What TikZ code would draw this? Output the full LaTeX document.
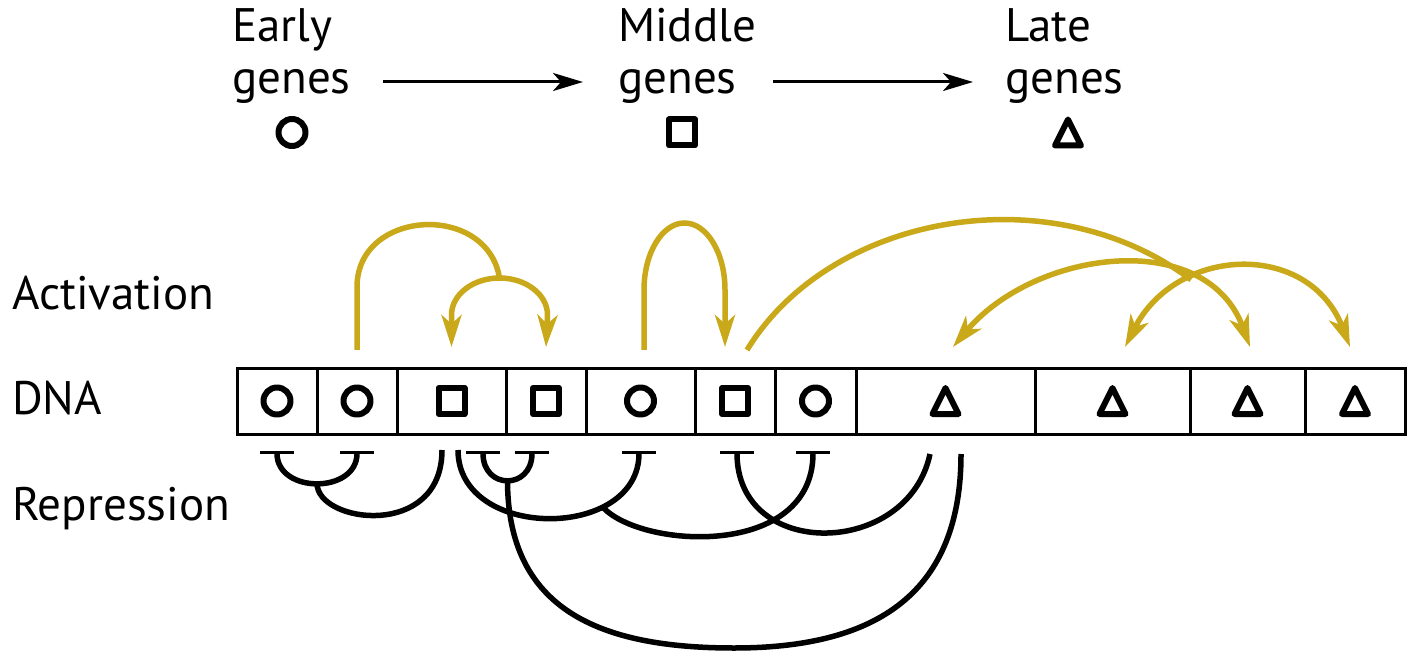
\documentclass[tikz,border=0pt]{standalone}
\usepackage{fontspec}
\setmainfont{PT Sans}
\usetikzlibrary{arrows.meta}

\definecolor{actgold}{RGB}{201,168,26}

\tikzset{
  cell/.style={draw, line width=3pt, minimum height=66pt, inner sep=0pt, outer sep=0pt},
  sym/.style={line width=6pt, line join=round},
  txt/.style={anchor=base west, inner sep=0pt, font=\fontsize{47}{52}\selectfont},
  gold/.style={draw=actgold, line width=5.5pt},
  act/.style={gold, -{Stealth[length=32pt,width=20pt,inset=9pt]}},
  bi/.style={gold, {Stealth[length=32pt,width=20pt,inset=9pt]}-{Stealth[length=32pt,width=20pt,inset=9pt]}},
  rep/.style={line width=5.5pt},
  tbar/.style={-{Bar[width=34pt,line width=3.2pt]}},
  barbar/.style={{Bar[width=34pt,line width=3.2pt]}-{Bar[width=34pt,line width=3.2pt]}},
  flow/.style={line width=3pt, -{Stealth[length=30pt,width=18pt,inset=8pt]}},
}

\begin{document}
\begin{tikzpicture}[x=1pt,y=1pt]
\useasboundingbox (0,0) rectangle (1410,654);

% legend
\node[txt] (early) at (232,612) {Early};
\node[txt] (earlyg) at (232,560) {genes};
\node[txt] (mid) at (618,612) {Middle};
\node[txt] (midg) at (618,560) {genes};
\node[txt] (late) at (1005,612) {Late};
\node[txt] (lateg) at (1005,560) {genes};
\draw[flow] ([shift={(151,12)}]earlyg.base west) -- ([shift={(-35,12)}]midg.base west);
\draw[flow] ([shift={(155,12)}]midg.base west) -- ([shift={(-32,12)}]lateg.base west);
\draw[sym] (292,521.5) circle (13.5);
\draw[sym] (682,521.5) ++(-13,-13) rectangle ++(26,26);
\draw[sym] (1068,521.5) ++(0,13) -- ++(-13,-26) -- ++(26,0) -- cycle;

% row labels
\node[txt] (lact) at (12,344) {Activation};
\node[txt] (ldna) at (12,240) {DNA};
\node[txt] (lrep) at (12,134) {Repression};

% DNA
\node[cell, minimum width=80pt] (g1) at (277,253) {};
\node[cell, minimum width=80pt] (g2) at (357,253) {};
\node[cell, minimum width=109pt] (g3) at (451.5,253) {};
\node[cell, minimum width=80pt] (g4) at (546,253) {};
\node[cell, minimum width=109pt] (g5) at (640.5,253) {};
\node[cell, minimum width=80pt] (g6) at (735,253) {};
\node[cell, minimum width=81pt] (g7) at (815.5,253) {};
\node[cell, minimum width=179pt] (g8) at (945.5,253) {};
\node[cell, minimum width=155pt] (g9) at (1112.5,253) {};
\node[cell, minimum width=115pt] (g10) at (1247.5,253) {};
\node[cell, minimum width=100pt] (g11) at (1355,253) {};

\draw[sym] (g1.center) circle (13.5);
\draw[sym] (g2.center) circle (13.5);
\draw[sym] (g3.center) ++(-13,-13) rectangle ++(26,26);
\draw[sym] (g4.center) ++(-13,-13) rectangle ++(26,26);
\draw[sym] (g5.center) circle (13.5);
\draw[sym] (g6.center) ++(-13,-13) rectangle ++(26,26);
\draw[sym] (g7.center) circle (13.5);
\draw[sym] (g8.center) ++(0,13) -- ++(-13,-26) -- ++(26,0) -- cycle;
\draw[sym] (g9.center) ++(0,13) -- ++(-13,-26) -- ++(26,0) -- cycle;
\draw[sym] (g10.center) ++(0,13) -- ++(-13,-26) -- ++(26,0) -- cycle;
\draw[sym] (g11.center) ++(0,13) -- ++(-13,-26) -- ++(26,0) -- cycle;

% activation
\coordinate (aj) at (499.5,376);
\draw[bi] ([yshift=21pt]g3.north) -- ++(0,32) arc[start angle=180, end angle=0, x radius=48, y radius=37] -- ([yshift=21pt]g4.north);
\draw[gold] ([yshift=18pt]g2.north) -- ++(0,63) .. controls +(0,78) and (487,452) .. (aj);
\draw[act] ([xshift=3.5pt,yshift=18pt]g5.north) -- ++(0,60) arc[start angle=180, end angle=0, x radius=40.5, y radius=67] -- ([xshift=-10pt,yshift=21pt]g6.north);
\draw[bi] ([xshift=7.5pt,yshift=21pt]g8.north) to[out=50, in=110, looseness=1.1] coordinate[pos=0.73] (P) ([xshift=2.5pt,yshift=21pt]g10.north);
\draw[bi] ([xshift=12.5pt,yshift=21pt]g9.north) to[out=63, in=111, looseness=1.3] ([xshift=-5pt,yshift=21pt]g11.north);
\draw[gold] ([xshift=12pt,yshift=18pt]g6.north) .. controls +(83,136) and (1050,480) .. (P);

% repression
\draw[rep, barbar] ([yshift=-17pt]g1.south) .. controls +(0,-43) and +(0,-43) .. ([yshift=-17pt]g2.south) coordinate[pos=0.5] (u1);
\draw[rep] ([xshift=-9.5pt,yshift=-16pt]g3.south) .. controls +(0,-90) and +(0,-40) .. (u1);
\draw[rep, barbar] ([xshift=31.5pt,yshift=-17pt]g3.south) .. controls +(0,-39) and +(0,-39) .. ([xshift=-14pt,yshift=-17pt]g4.south) coordinate[pos=0.5] (u2);
\draw[rep] ([xshift=15.5pt,yshift=-20pt]g8.south) .. controls +(0,-146) and (868,6) .. (734,6) .. controls (600,6) and (507.5,44) .. (u2);
\draw[rep, tbar] ([xshift=6.5pt,yshift=-16pt]g3.south) .. controls +(0,-91) and +(0,-90) .. ([xshift=-1.5pt,yshift=-17pt]g5.south) coordinate[pos=0.71] (rj);
\draw[rep, tbar] (rj) .. controls +(38,-42.5) and +(0,-108) .. ([xshift=-2.5pt,yshift=-17pt]g7.south);
\draw[rep, tbar] ([xshift=-15.5pt,yshift=-20pt]g8.south) .. controls +(-22,-104) and +(0,-110) .. ([xshift=2pt,yshift=-17pt]g6.south);
\end{tikzpicture}
\end{document}
